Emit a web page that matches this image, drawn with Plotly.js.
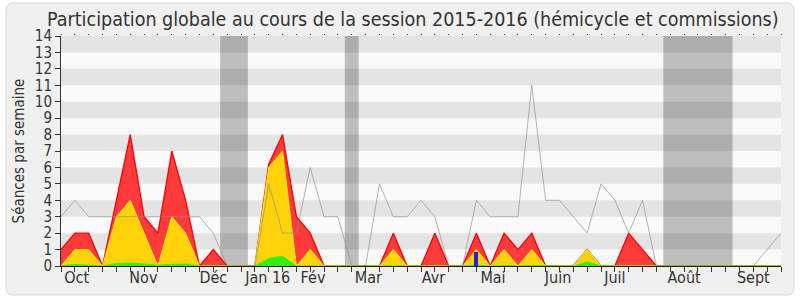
<!DOCTYPE html>
<html><head><meta charset="utf-8">
<script src="https://cdn.plot.ly/plotly-3.0.1.min.js"></script>
<style>body{margin:0;background:#fff}#c{width:800px;height:300px}</style>
</head><body><div id="c"></div><script>
const weeks = [0,1,2,3,4,5,6,7,8,9,10,11,12,13,14,15,16,17,18,19,20,21,22,23,24,25,26,27,28,29,30,31,32,33,34,35,36,37,38,39,40,41,42,43,44,45,46,47,48,49,50,51,52];
const presenceCommission = [1,2,2,0,4,8,3,2,7,4,0,1,0,0,0,6.2,8,3,2,0,0,0,0,0,2,0,0,2,0,0,2,0,2,1,2,0,0,0,1,0,0,2,1,0,0,0,0,0,0,0,0,0,0];
const interventions = [0,1,1,0,3,4,2,0,3,2,0,0,0,0,0,6,7,0,1,0,0,0,0,0,1,0,0,0,0,0,1,0,1,0,1,0,0,0,1,0,0,0,0,0,0,0,0,0,0,0,0,0,0];
const hemicycle = [0,0.1,0.05,0,0.15,0.18,0.12,0.05,0.1,0.12,0,0,0,0,0,0.45,0.6,0,0,0,0,0,0,0,0.03,0,0,0,0,0,0.05,0,0.03,0,0.03,0,0,0,0.25,0,0,0,0,0,0,0,0,0,0,0,0,0,0];
const mediane = [3,4,3,3,3,3,3,3,3,3,3,2,0,0,0,5,2,2,6,3,3,0,0,5,3,3,4,3,0,0,4,3,3,3,11,4,4,3,2,5,4,2,4,0,0,0,0,0,0,0,0,1,2];
const questionWeeks = [30];
const questionValues = [0.85];
const monthPos = [1.13,5.95,11.0,14.93,18.2,22.2,26.9,31.2,35.9,40.0,45.0,50.0];
const monthLabels = ["Oct","Nov","Déc","Jan 16","Fév","Mar","Avr","Mai","Juin","Juil","Août","Sept"];
const vacStart = [11.5,20.5,43.5];
const vacEnd = [13.5,21.5,48.5];
const yTicks = [0,1,2,3,4,5,6,7,8,9,10,11,12,13,14];

const FONT = "'DejaVu Sans Condensed','DejaVu Sans',sans-serif";
const L=61,R=781,T=36,B=266;
function px(x){return ((x-L)/(R-L)).toFixed(4);}
function py(y){return ((B-y)/(B-T)).toFixed(4);}
function rr(x0,y0,x1,y1,r){
  const p=(x,y)=>px(x)+','+py(y);
  return 'M'+p(x0+r,y0)+' L'+p(x1-r,y0)+' Q'+p(x1,y0)+' '+p(x1,y0+r)+' L'+p(x1,y1-r)+' Q'+p(x1,y1)+' '+p(x1-r,y1)+
    ' L'+p(x0+r,y1)+' Q'+p(x0,y1)+' '+p(x0,y1-r)+' L'+p(x0,y0+r)+' Q'+p(x0,y0)+' '+p(x0+r,y0)+' Z';
}

const shapes = [];
shapes.push({type:'path', xref:'paper', yref:'paper', path: rr(6,3,794,295,7), fillcolor:'#f0f0f0', line:{color:'#d8d8d8', width:1}, layer:'below'});
shapes.push({type:'rect', xref:'paper', yref:'paper', x0:0, x1:1, y0:0, y1:1, fillcolor:'#fafafa', line:{width:0}, layer:'below'});
for (let i=0;i<vacStart.length;i++){
  shapes.push({type:'rect', xref:'x', yref:'paper', x0:vacStart[i], x1:vacEnd[i], y0:0, y1:1, fillcolor:'#bebebe', line:{width:0}, layer:'below'});
}
for (let k=1;k<14;k+=2){
  shapes.push({type:'rect', xref:'paper', yref:'y', x0:0, x1:1, y0:k, y1:k+1, fillcolor:'rgba(0,0,0,0.085)', line:{width:0}, layer:'below'});
}

const traces = [
  {type:'scatter', mode:'lines', x:weeks, y:presenceCommission, fill:'tozeroy', fillcolor:'rgba(255,50,50,0.95)', line:{color:'#ff0000', width:1.3}, hoverinfo:'skip'},
  {type:'scatter', mode:'lines', x:weeks, y:interventions, fill:'tozeroy', fillcolor:'#ffd20a', line:{color:'#ffee00', width:1}, hoverinfo:'skip'},
  {type:'scatter', mode:'lines', x:weeks, y:hemicycle, fill:'tozeroy', fillcolor:'#33ee11', line:{color:'#22ff00', width:1}, hoverinfo:'skip'},
  {type:'bar', x:questionWeeks, y:questionValues, xaxis:'x2', width:0.3, marker:{color:'#2222dd', line:{width:0}}, hoverinfo:'skip'},
  {type:'scatter', mode:'lines', x:weeks, y:mediane, xaxis:'x2', line:{color:'rgba(140,140,140,0.65)', width:1}, hoverinfo:'skip'},
  {type:'scatter', mode:'lines', x:[], y:[], xaxis:'x3', hoverinfo:'skip'}
];

const layout = {
  width:800, height:300,
  margin:{l:L, r:800-R, t:T, b:300-B},
  paper_bgcolor:'#ffffff', plot_bgcolor:'#fafafa',
  showlegend:false,
  font:{family:FONT, color:'#333'},
  title:{text:'Participation globale au cours de la session 2015-2016 (hémicycle et commissions)', font:{family:FONT, size:19.5, color:'#333'}, xref:'container', x:0.516, xanchor:'center', yref:'container', y:0.937, yanchor:'middle'},
  xaxis:{range:[0,52], tickvals:weeks, ticktext:weeks.map(()=>''), ticks:'outside', ticklen:5, tickcolor:'#333', showline:true, linecolor:'#3a1010', linewidth:1, showgrid:false, zeroline:false, fixedrange:true},
  xaxis2:{range:[0,52], overlaying:'x', anchor:'y', side:'bottom', tickvals:monthPos, ticktext:monthLabels, ticks:'', showline:false, showgrid:false, zeroline:false, tickfont:{family:FONT, size:16, color:'#333'}, fixedrange:true},
  xaxis3:{range:[0,52], overlaying:'x', anchor:'y', side:'top', tickvals:weeks, showticklabels:false, ticks:'outside', ticklen:1, tickwidth:1, tickcolor:'#444', showline:false, showgrid:false, zeroline:false, fixedrange:true},
  yaxis:{range:[0,14], tickvals:yTicks, ticks:'outside', ticklen:5, tickcolor:'#333', showline:true, linecolor:'#333', linewidth:1, showgrid:false, zeroline:false, tickfont:{family:FONT, size:15, color:'#333'}, title:{text:'Séances par semaine', font:{family:FONT, size:15, color:'#333'}, standoff:6}, automargin:false, fixedrange:true},
  shapes:shapes,
  bargap:0
};
Plotly.newPlot('c', traces, layout, {staticPlot:true, displayModeBar:false});
</script></body></html>
